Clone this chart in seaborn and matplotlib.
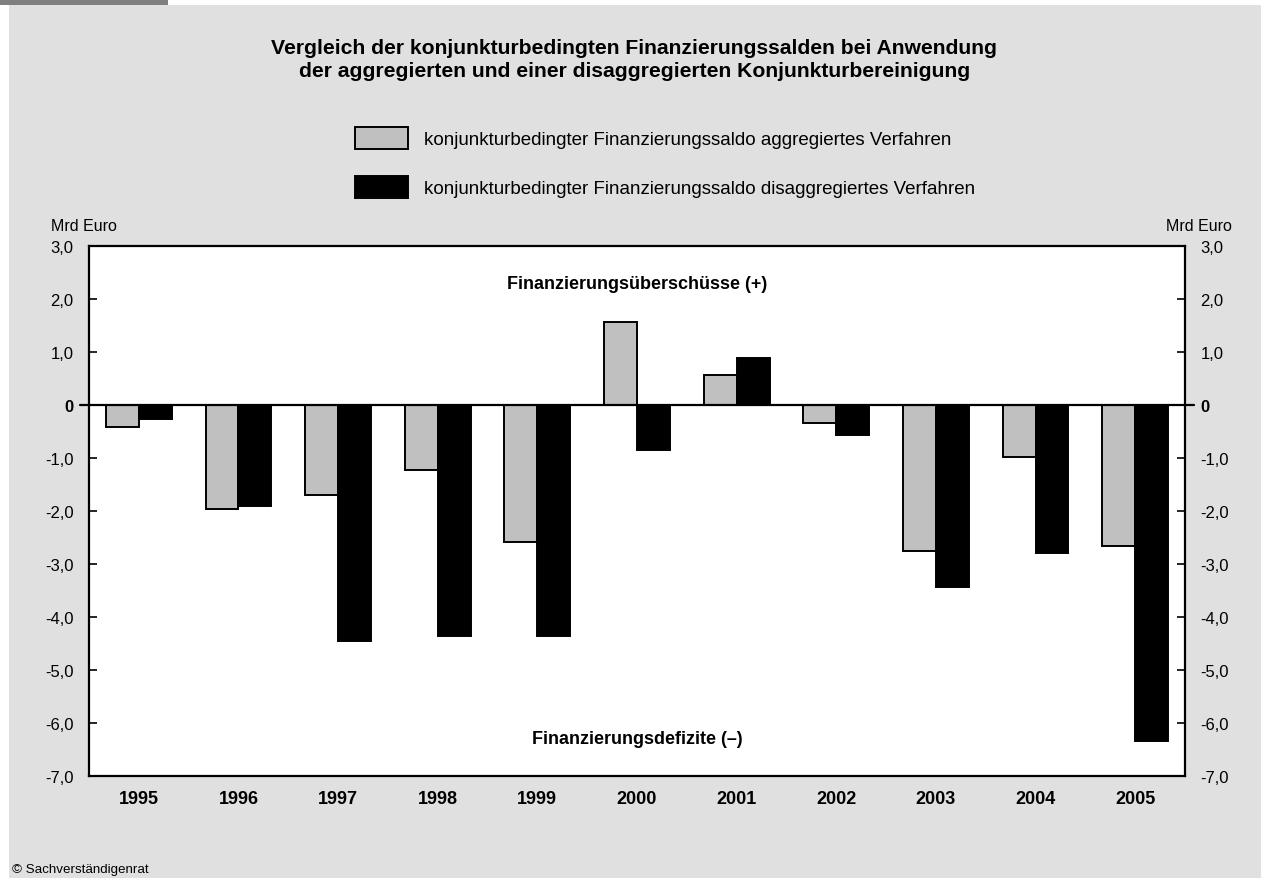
import numpy as np
import matplotlib.pyplot as plt
import matplotlib.patches as mpatches
import pandas as pd
import seaborn as sns

jahre = ["1995", "1996", "1997", "1998", "1999", "2000", "2001", "2002", "2003", "2004", "2005"]
aggregiert = [-0.42, -1.96, -1.70, -1.23, -2.58, 1.57, 0.57, -0.34, -2.75, -0.98, -2.66]
disaggregiert = [-0.27, -1.90, -4.45, -4.36, -4.36, -0.85, 0.89, -0.57, -3.43, -2.79, -6.34]
serien = ["konjunkturbedingter Finanzierungssaldo aggregiertes Verfahren",
          "konjunkturbedingter Finanzierungssaldo disaggregiertes Verfahren"]
y_ticks = [3, 2, 1, 0, -1, -2, -3, -4, -5, -6, -7]
y_labels = ["3,0", "2,0", "1,0", "0", "-1,0", "-2,0", "-3,0", "-4,0", "-5,0", "-6,0", "-7,0"]

df = pd.DataFrame({
    "Jahr": jahre * 2,
    "Wert": aggregiert + disaggregiert,
    "Verfahren": [serien[0]] * len(jahre) + [serien[1]] * len(jahre),
})

sns.set_style("white")
plt.rcParams["font.family"] = ["Liberation Sans", "DejaVu Sans"]
plt.rcParams["text.color"] = "black"
plt.rcParams["xtick.color"] = "black"
plt.rcParams["ytick.color"] = "black"

hellgrau = "#e0e0e0"
fig = plt.figure(figsize=(12.61, 8.79), dpi=100, facecolor="white")
# Hintergrund
fig.patches.append(mpatches.Rectangle((9 / 1261, 0), 1, 1 - 6 / 879, transform=fig.transFigure,
                                      facecolor=hellgrau, edgecolor="none", zorder=-10))
fig.patches.append(mpatches.Rectangle((0, 1 - 6 / 879), 168 / 1261, 6 / 879, transform=fig.transFigure,
                                      facecolor="#808080", edgecolor="none", zorder=-10))

ax = fig.add_axes([89 / 1261, 1 - 777 / 879, 1096 / 1261, 530 / 879])
ax.set_facecolor("white")

sns.barplot(data=df, x="Jahr", y="Wert", hue="Verfahren", palette=["#c0c0c0", "black"],
            width=0.66, edgecolor="black", linewidth=1.4, ax=ax, zorder=2)

ax.set_xlim(-0.5, len(jahre) - 0.5)
ax.set_ylim(-7, 3)
ax.set_xlabel("")
ax.set_ylabel("")

for s in ax.spines.values():
    s.set_linewidth(1.6)
    s.set_color("black")

# Nulllinie ueber die Achsen hinaus
ax.plot([-0.59, len(jahre) - 0.41], [0, 0], color="black", lw=1.6, clip_on=False, zorder=5)

ax.set_yticks(y_ticks)
ax.set_yticklabels(y_labels)
ax.tick_params(axis="y", direction="in", length=6, width=1.2, labelsize=12, pad=11,
               left=True, right=True, labelleft=True, labelright=True)
for t in ax.yaxis.get_major_ticks():
    if t.label1.get_text() == "0":
        t.label1.set_fontweight("bold")
        t.label2.set_fontweight("bold")

ax.set_xticks(range(len(jahre)))
ax.set_xticklabels(jahre, fontweight="bold", fontsize=13)
ax.set_xticks(np.arange(-0.5, len(jahre), 1), minor=True)
ax.tick_params(axis="x", which="major", length=0, pad=10)
ax.tick_params(axis="x", which="minor", direction="out", length=6, width=1.2)

ax.text(5, 2.3, "Finanzierungsüberschüsse (+)", ha="center", va="center", fontsize=13, fontweight="bold")
ax.text(5, -6.3, "Finanzierungsdefizite (–)", ha="center", va="center", fontsize=13, fontweight="bold")

handles, labels = ax.get_legend_handles_labels()
ax.legend_.remove() if ax.legend_ else None
fig.legend(handles, labels, loc="upper left", bbox_to_anchor=(355 / 1261, 1 - 128 / 879),
           frameon=False, fontsize=13.5, handlelength=2.85, handleheight=1.4, labelspacing=1.45,
           handletextpad=0.85, borderaxespad=0, borderpad=0)

fig.text(0.503, 1 - 60 / 879, "Vergleich der konjunkturbedingten Finanzierungssalden bei Anwendung\n"
         "der aggregierten und einer disaggregierten Konjunkturbereinigung",
         ha="center", va="center", fontsize=15.2, fontweight="bold", linespacing=1.25)
fig.text(51 / 1261, 1 - 227 / 879, "Mrd Euro", ha="left", va="center", fontsize=11.5)
fig.text(1232 / 1261, 1 - 227 / 879, "Mrd Euro", ha="right", va="center", fontsize=11.5)
fig.text(12 / 1261, 1 - 870 / 879, "© Sachverständigenrat", ha="left", va="center", fontsize=9.6)

fig.savefig("out.png", dpi=100, facecolor=fig.get_facecolor())
